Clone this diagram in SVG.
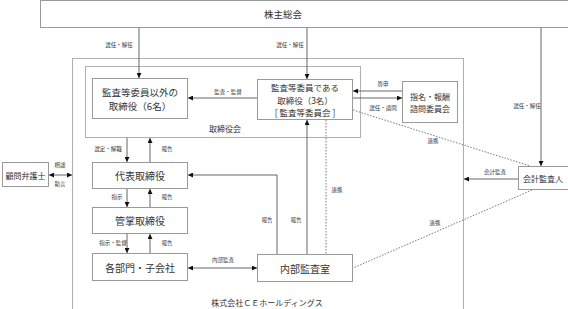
<svg xmlns="http://www.w3.org/2000/svg" width="568" height="309" viewBox="0 0 568 309">
<defs>
<marker id="ah" viewBox="0 0 10 10" refX="10" refY="5" markerWidth="5" markerHeight="5" orient="auto-start-reverse">
<path d="M0,0 L10,5 L0,10 z" fill="#111"/>
</marker>
<style>
.box{fill:#fff;stroke:#9a9a9a;stroke-width:1}
.frame{fill:none;stroke:#b0b0b0;stroke-width:1}
.t{font-family:"Noto Sans CJK JP","Noto Sans",sans-serif;fill:#333;text-anchor:middle;dominant-baseline:central}
.m{font-size:10px}
.s{font-size:5.5px}
.c{fill:none;stroke:#666;stroke-width:1}
.a{marker-end:url(#ah)}
.d{fill:none;stroke:#555;stroke-width:0.8;stroke-dasharray:1.5 1.5}
</style>
</defs>
<rect width="568" height="309" fill="#fff"/>
<g id="company">
<rect class="frame" x="72.5" y="58.5" width="391" height="260"/>
<text class="t" x="267" y="302" font-size="8">株式会社ＣＥホールディングス</text>
</g>
<g id="board">
<rect class="frame" x="85.5" y="66.5" width="275" height="71"/>
<text class="t" x="225" y="128" font-size="8">取締役会</text>
</g>
<g id="shareholders">
<rect class="box" x="40.5" y="0.5" width="540" height="27"/>
<text class="t" x="283" y="14" font-size="9.5">株主総会</text>
</g>
<g id="directors">
<rect class="box" x="92.5" y="78.5" width="95" height="40"/>
<text class="t" x="140" y="91.5" font-size="9.5"><tspan x="140" y="91.5">監査等委員以外の</tspan><tspan x="140" y="105.5">取締役（6名）</tspan></text>
</g>
<g id="audit-committee">
<rect class="box" x="257.5" y="79.5" width="95" height="40"/>
<text class="t" x="305" y="87" font-size="8.5"><tspan x="305" y="87">監査等委員である</tspan><tspan x="305" y="99.5">取締役（3名）</tspan><tspan x="305" y="112">[ 監査等委員会 ]</tspan></text>
</g>
<g id="nomination">
<rect class="box" x="402.5" y="81.5" width="55" height="41"/>
<text class="t" x="430" y="96" font-size="8"><tspan x="430" y="96">指名・報酬</tspan><tspan x="430" y="107.8">諮問委員会</tspan></text>
</g>
<g id="ceo">
<rect class="box" x="92.5" y="162.5" width="95" height="26"/>
<text class="t m" x="140" y="175">代表取締役</text>
</g>
<g id="managing">
<rect class="box" x="92.5" y="207.5" width="95" height="26"/>
<text class="t m" x="140" y="220">管掌取締役</text>
</g>
<g id="departments">
<rect class="box" x="92.5" y="253.5" width="95" height="27"/>
<text class="t m" x="140" y="267">各部門・子会社</text>
</g>
<g id="internal-audit">
<rect class="box" x="257.5" y="254.5" width="95" height="27"/>
<text class="t m" x="305" y="268">内部監査室</text>
</g>
<g id="lawyer">
<rect class="box" x="2.5" y="162.5" width="46" height="24"/>
<text class="t" x="25.5" y="175" font-size="8">顧問弁護士</text>
</g>
<g id="auditor">
<rect class="box" x="518.5" y="166.5" width="52" height="23"/>
<text class="t" x="543" y="178" font-size="8">会計監査人</text>
</g>
<g id="connectors">
<line class="c a" x1="139" y1="28" x2="139" y2="78"/>
<line class="c a" x1="307" y1="28" x2="307" y2="79"/>
<line class="c a" x1="541" y1="28" x2="541" y2="166"/>
<line class="c a" x1="257" y1="98" x2="188" y2="98"/>
<line class="c a" x1="402" y1="91" x2="353" y2="91"/>
<line class="c a" x1="353" y1="98" x2="402" y2="98"/>
<line class="c a" x1="127" y1="138" x2="127" y2="162"/>
<line class="c a" x1="150" y1="162" x2="150" y2="138"/>
<line class="c a" x1="127" y1="189" x2="127" y2="207"/>
<line class="c a" x1="150" y1="207" x2="150" y2="189"/>
<line class="c a" x1="127" y1="234" x2="127" y2="253"/>
<line class="c a" x1="150" y1="253" x2="150" y2="234"/>
<line class="c a" x1="49" y1="175" x2="72" y2="175" marker-start="url(#ah)"/>
<line class="c a" x1="518" y1="179" x2="464" y2="179"/>
<line class="c a" x1="188" y1="268" x2="257" y2="268" marker-start="url(#ah)"/>
<line class="c a" x1="307" y1="254" x2="307" y2="120"/>
<polyline class="c a" points="277,254 277,175 188,175"/>
<line class="d" x1="326" y1="120" x2="326" y2="254"/>
<line class="d" x1="353" y1="110" x2="530" y2="166"/>
<line class="d" x1="532" y1="190" x2="353" y2="268"/>
<text class="t s" x="119" y="45">選任・解任</text>
<text class="t s" x="290" y="45">選任・解任</text>
<text class="t s" x="527" y="106">選任・解任</text>
<text class="t s" x="228" y="92">監査・監督</text>
<text class="t s" x="383" y="84">答申</text>
<text class="t s" x="383" y="108">選任・諮問</text>
<text class="t s" x="108" y="149">選定・解職</text>
<text class="t s" x="167" y="149">報告</text>
<text class="t s" x="117" y="197">指示</text>
<text class="t s" x="167" y="197">報告</text>
<text class="t s" x="113" y="243">指示・監督</text>
<text class="t s" x="167" y="243">報告</text>
<text class="t s" x="60" y="165">相談</text>
<text class="t s" x="60" y="184">助言</text>
<text class="t s" x="495" y="172">会計監査</text>
<text class="t s" x="433" y="141">連携</text>
<text class="t s" x="337" y="190">連携</text>
<text class="t s" x="267" y="220">報告</text>
<text class="t s" x="296" y="220">報告</text>
<text class="t s" x="435" y="223">連携</text>
<text class="t s" x="223" y="260">内部監査</text>
</g>
</svg>
